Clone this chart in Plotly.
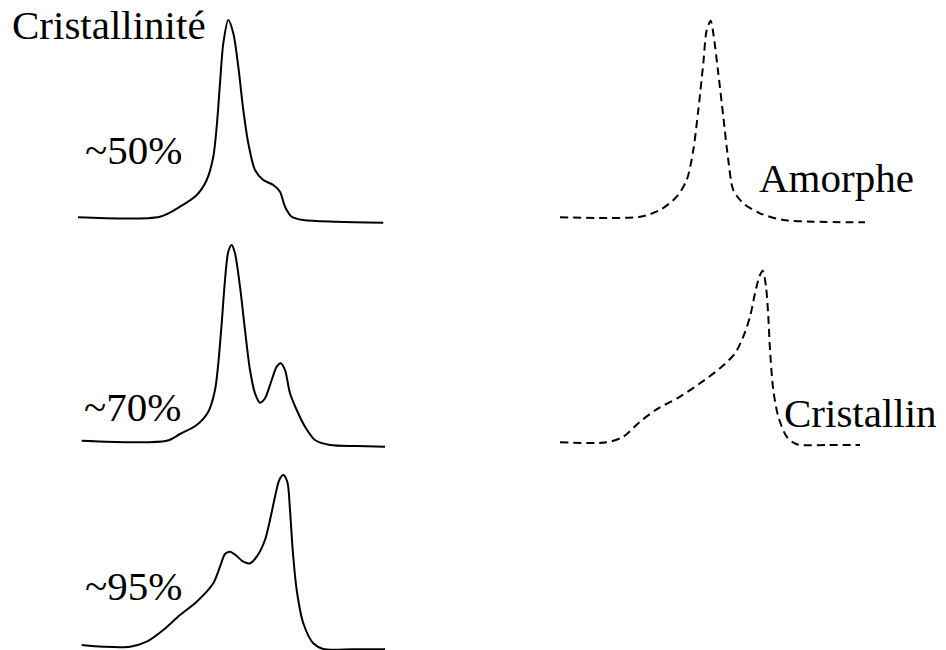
import plotly.graph_objects as go

# Traced curves (horizontal position, vertical position measured downward)
c50_x = [78, 160, 180, 196.7, 206.7, 213.3, 216.7, 220, 223.3, 228.3, 233.3, 238.3, 243.3, 248.3, 255, 263.3, 273.3, 280, 285, 291.7, 303.3, 336.7, 383.3]
c50_y = [217.3, 216.7, 206.7, 195, 180, 156.7, 126.7, 83.3, 43.3, 20, 33.3, 66.7, 110, 143.3, 170, 180, 185, 191.7, 206.7, 216.7, 220, 221.7, 222.7]

c70_x = [81.7, 166.7, 180, 196.7, 208.3, 215, 218.3, 221.7, 225, 228.3, 231.7, 235, 240, 245, 250, 255, 260, 265, 271.7, 276.7, 280.7, 285, 290, 296.7, 305, 315, 330, 356.7, 385]
c70_y = [440.7, 440.7, 434, 425, 411.7, 390, 363.3, 323.3, 280, 251.7, 245, 253.3, 286.7, 330, 370, 393.3, 402.7, 398.3, 380, 366.7, 363.3, 370, 393.3, 410, 426.7, 440, 445, 446, 446.7]

c95_x = [81.7, 103.3, 130, 146.7, 163.3, 180, 196.7, 213.3, 220, 225, 230, 236.7, 243.3, 250, 256.7, 265, 270, 275, 279.3, 283.3, 287.3, 290, 292.7, 296.7, 303.3, 313.3, 323.3, 353.3, 385]
c95_y = [645, 646.7, 646.7, 641.7, 630, 615, 601.7, 583.3, 566.7, 554, 551.7, 556, 561.7, 563.3, 556.7, 540, 520, 496.7, 480, 475, 481.7, 510, 550, 590, 623.3, 643.3, 649, 649.3, 649.3]

amor_x = [560, 640, 660, 676.7, 686.7, 693.3, 698.3, 703.3, 706.7, 710.7, 713.3, 718.3, 723.3, 728.3, 733.3, 743.3, 760, 783.3, 813.3, 865]
amor_y = [217.3, 216.7, 210, 196.7, 180, 150, 110, 63.3, 30, 20.7, 33.3, 73.3, 116.7, 160, 190, 203.3, 213.3, 220, 221.7, 222.3]

cris_x = [560, 606.7, 623.3, 640, 656.7, 680, 700, 720, 735, 743.3, 750, 755, 759.3, 762.7, 766, 768.3, 770, 773.3, 778.3, 786.7, 796.7, 826.7, 860]
cris_y = [442.3, 442.3, 436.7, 421.7, 409.3, 396.7, 383.3, 368.3, 353.3, 336.7, 316.7, 293.3, 276.7, 270.7, 286.7, 316.7, 350, 390, 416.7, 436.7, 444.3, 445, 445]

labels = ["Cristallinité", "~50%", "~70%", "~95%", "Amorphe", "Cristallin"]
label_x = [13, 86, 85, 86, 760, 785]
label_y = [42, 167, 424, 603, 195, 430]

fig = go.Figure()
for xs, ys, dash in [(c50_x, c50_y, "solid"), (c70_x, c70_y, "solid"), (c95_x, c95_y, "solid"),
                     (amor_x, amor_y, "8px,5px"), (cris_x, cris_y, "8px,5px")]:
    fig.add_trace(go.Scatter(x=xs, y=ys, mode="lines",
                             line=dict(color="black", width=2, dash=dash, shape="spline", smoothing=0.8),
                             hoverinfo="skip", showlegend=False, cliponaxis=False))

for t, x, y in zip(labels, label_x, label_y):
    fig.add_annotation(x=x, y=y, text=t, showarrow=False, xanchor="left", yanchor="bottom",
                       yshift=-7, xshift=-2, borderpad=0,
                       font=dict(family="Liberation Serif, Times New Roman, serif", size=41, color="black"))

fig.update_layout(width=946, height=650, margin=dict(l=0, r=0, t=0, b=0),
                  paper_bgcolor="white", plot_bgcolor="white", showlegend=False)
fig.update_xaxes(range=[0, 946], visible=False, showgrid=False, zeroline=False)
fig.update_yaxes(range=[650, 0], visible=False, showgrid=False, zeroline=False)
fig.write_html("out.html", config={"displayModeBar": False},
               post_script="document.body.style.margin='0';")
